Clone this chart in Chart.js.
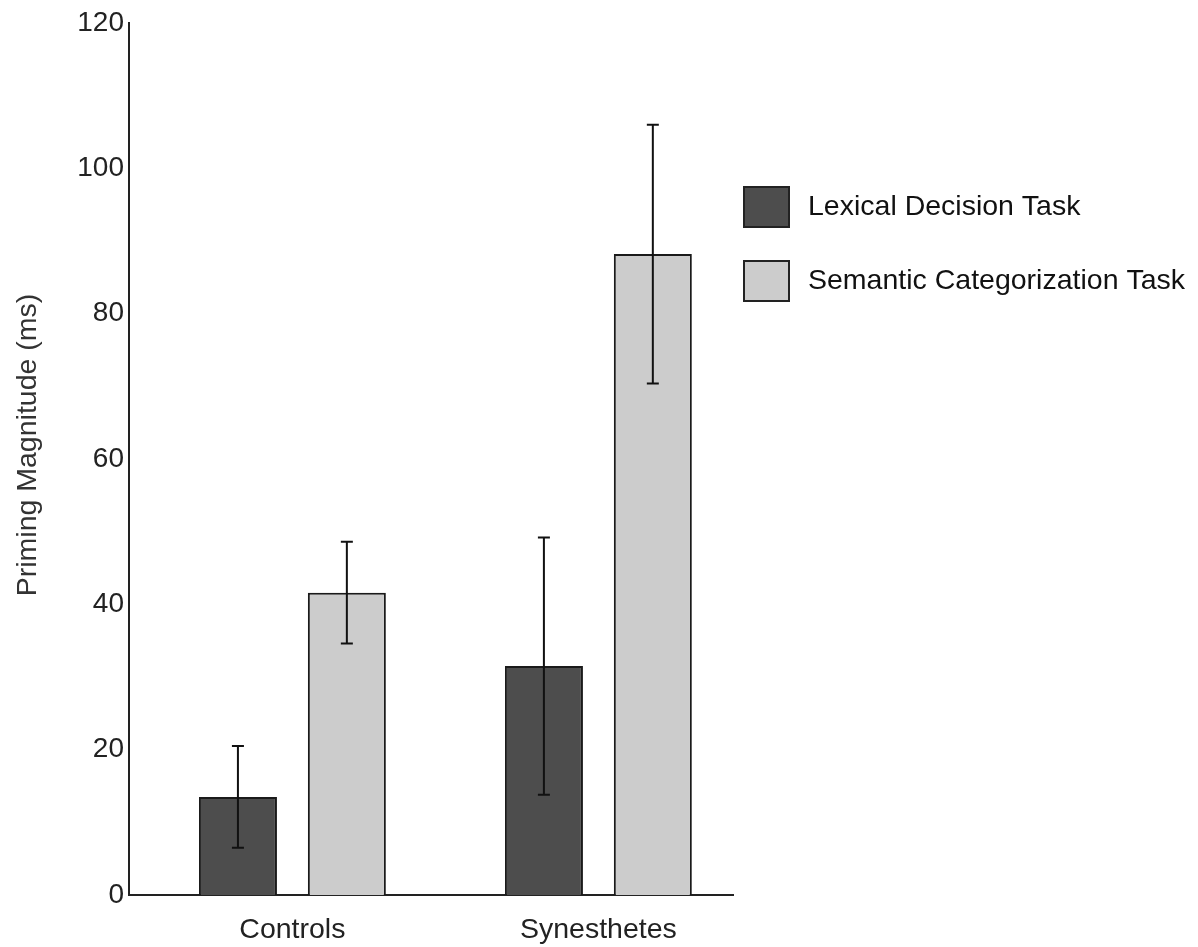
<!DOCTYPE html>
<html>
<head>
<meta charset="utf-8">
<script src="https://cdn.jsdelivr.net/npm/chart.js@4.4.1/dist/chart.umd.min.js"></script>
<style>
  html, body { margin: 0; padding: 0; background: #ffffff; }
  #wrap { width: 1198px; height: 947px; position: relative; }
</style>
</head>
<body>
<div id="wrap"><canvas id="c" width="1198" height="947"></canvas></div>
<script>
// ---- data ----
const categories = ['Controls', 'Synesthetes'];
const seriesNames = ['Lexical Decision Task', 'Semantic Categorization Task'];
const lexicalMeans = [13.5, 31.5];
const lexicalErr = [7.0, 17.7];
const semanticMeans = [41.6, 88.2];
const semanticErr = [7.0, 17.8];
const yTicks = [0, 20, 40, 60, 80, 100, 120];
const yTitle = 'Priming Magnitude (ms)';

const FONT = 'Liberation Sans, Arial, Helvetica, sans-serif';
const TEXT = '#222222';

const errorBars = {
  id: 'errorBars',
  afterDatasetsDraw(chart) {
    const ctx = chart.ctx;
    const y = chart.scales.y;
    chart.data.datasets.forEach((ds, di) => {
      const meta = chart.getDatasetMeta(di);
      meta.data.forEach((bar, i) => {
        const v = ds.data[i].y;
        const e = ds.err[i];
        const top = y.getPixelForValue(v + e);
        const bot = y.getPixelForValue(v - e);
        const cx = bar.x;
        ctx.save();
        ctx.strokeStyle = '#111111';
        ctx.lineWidth = 2;
        ctx.beginPath();
        ctx.moveTo(cx, top); ctx.lineTo(cx, bot);
        ctx.moveTo(cx - 6, top); ctx.lineTo(cx + 6, top);
        ctx.moveTo(cx - 6, bot); ctx.lineTo(cx + 6, bot);
        ctx.stroke();
        ctx.restore();
      });
    });
  }
};

const customLegend = {
  id: 'customLegend',
  afterDraw(chart) {
    const ctx = chart.ctx;
    const area = chart.chartArea;
    const x0 = area.right + 11;
    const yStart = area.top + 164;
    const gap = 74;
    chart.data.datasets.forEach((ds, i) => {
      const yy = yStart + i * gap;
      ctx.save();
      ctx.fillStyle = ds.backgroundColor;
      ctx.fillRect(x0, yy, 45, 40);
      ctx.strokeStyle = '#222222';
      ctx.lineWidth = 2;
      ctx.strokeRect(x0, yy, 45, 40);
      ctx.fillStyle = '#111111';
      ctx.font = '28.5px ' + FONT;
      ctx.textBaseline = 'middle';
      ctx.textAlign = 'left';
      ctx.fillText(ds.label, x0 + 64, yy + 20);
      ctx.restore();
    });
  }
};

const axisTitle = {
  id: 'axisTitle',
  afterDraw(chart) {
    const ctx = chart.ctx;
    const area = chart.chartArea;
    ctx.save();
    ctx.translate(28, (area.top + area.bottom) / 2 - 14);
    ctx.rotate(-Math.PI / 2);
    ctx.fillStyle = '#333333';
    ctx.font = '28.5px ' + FONT;
    ctx.textAlign = 'center';
    ctx.textBaseline = 'middle';
    ctx.fillText(yTitle, 0, 0);
    ctx.restore();
  }
};

const mk = (means) => means.map((m, i) => ({ x: i, y: m }));

new Chart(document.getElementById('c'), {
  type: 'bar',
  data: {
    datasets: [
      {
        label: seriesNames[0],
        data: mk(lexicalMeans),
        err: lexicalErr,
        backgroundColor: '#4d4d4d',
        borderColor: '#1a1a1a',
        borderWidth: 2,
        borderSkipped: 'bottom'
      },
      {
        label: seriesNames[1],
        data: mk(semanticMeans),
        err: semanticErr,
        backgroundColor: '#cccccc',
        borderColor: '#1a1a1a',
        borderWidth: 2,
        borderSkipped: 'bottom'
      }
    ]
  },
  options: {
    responsive: false,
    animation: false,
    devicePixelRatio: 1,
    categoryPercentage: 0.712,
    barPercentage: 0.716,
    layout: { padding: { top: 23, right: 465, bottom: 0, left: 0 } },
    plugins: {
      legend: { display: false },
      tooltip: { enabled: false }
    },
    scales: {
      x: {
        type: 'linear',
        offset: false,
        min: -0.534,
        max: 1.44,
        grid: { display: false, drawTicks: false },
        border: { display: true, color: '#222222', width: 2 },
        afterBuildTicks: (s) => { s.ticks = categories.map((_, i) => ({ value: i })); },
        ticks: {
          callback: (v) => categories[v] ?? '',
          color: TEXT,
          font: { family: FONT, size: 28.5 },
          padding: 18,
          maxRotation: 0,
          autoSkip: false
        },
        afterFit: (s) => { s.height = 52; }
      },
      y: {
        min: 0,
        max: 120,
        afterBuildTicks: (s) => { s.ticks = yTicks.map(v => ({ value: v })); },
        grid: { display: false, drawTicks: false },
        border: { display: true, color: '#222222', width: 2 },
        ticks: {
          color: TEXT,
          font: { family: FONT, size: 28 },
          padding: 5
        },
        afterFit: (s) => { s.width = 129; }
      }
    }
  },
  plugins: [errorBars, customLegend, axisTitle]
});
</script>
</body>
</html>
